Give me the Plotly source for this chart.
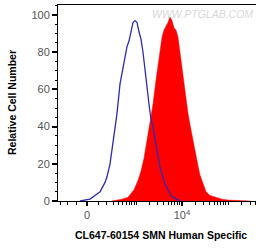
import numpy as np
import plotly.graph_objects as go

# Display transform (biexponential-like): asinh(v / W)
W = 173.0

# Control (blue) histogram: fluorescence intensity vs relative cell number
blue_int = [-62, -17, 26, 71, 121, 178, 203, 246, 277, 329, 368, 434, 538, 627, 696,
            771, 854, 946, 1047, 1158, 1281, 1417, 1649, 1916, 2119, 2342, 2723,
            3327, 4271, 5768, 7404, 9512]
blue_cnt = [0, 0.3, 1, 3, 5, 10, 13, 20, 28, 40, 47, 63, 75, 83, 86,
            91, 96, 97, 96, 91, 87, 80, 65, 52, 44, 40, 30,
            18, 9, 3, 1, 0]

# Stained sample (red filled) histogram
red_int = [277, 391, 483, 661, 899, 1100, 1281, 1491, 1733, 2015, 2342, 2723, 3164,
           3677, 4063, 4491, 4963, 5485, 6062, 6699, 7404, 8188, 9048, 9999, 11050,
           12215, 13500, 14920, 16490, 19150, 22250, 24590, 28570, 33190, 40550,
           52060, 73870, 99700, 181650, 299500]
red_cnt = [0, 0.5, 1, 2, 6, 11, 16, 23, 32, 41, 52, 65, 77,
           88, 92, 94, 96, 99, 97, 93, 92, 88, 80, 70, 62,
           54, 47, 41, 35, 26, 19, 14, 9, 5, 3,
           2, 1, 0.5, 0.2, 0]

x_major_vals = [0, 10000]
x_major_text = ["0", "10<sup>4</sup>"]
x_minor_vals = ([-300, -200, -100, 100, 200, 300, 400, 500, 600, 700, 800, 900]
                + [i * 1000 for i in range(1, 10)]
                + [i * 10000 for i in range(2, 10)]
                + [i * 100000 for i in range(1, 5)])

def tr(v):
    return np.arcsinh(np.asarray(v, dtype=float) / W)

fig = go.Figure()
fig.add_trace(go.Scatter(
    x=tr(red_int), y=red_cnt, mode="lines", fill="tozeroy",
    line=dict(color="#ff0000", width=0.5), fillcolor="#ff0000",
    hoverinfo="skip", showlegend=False))
fig.add_trace(go.Scatter(
    x=tr(blue_int), y=blue_cnt, mode="lines",
    line=dict(color="#2b2bb8", width=1.3),
    hoverinfo="skip", showlegend=False))

font_family = "Liberation Sans, Arial, sans-serif"

fig.update_layout(
    width=256, height=249,
    margin=dict(l=58, r=0, t=5, b=48, autoexpand=False),
    paper_bgcolor="white", plot_bgcolor="white",
    font=dict(family=font_family, color="#555555", size=11),
    xaxis=dict(
        range=[float(tr(-349)), float(tr(405000))],
        automargin=False,
        showline=True, linecolor="black", linewidth=1, mirror=True,
        showgrid=False, zeroline=False,
        tickmode="array", tickvals=list(tr(x_major_vals)), ticktext=x_major_text,
        ticks="outside", ticklen=4, tickwidth=2, tickcolor="black",
        tickfont=dict(size=11, color="#555555"),
        minor=dict(tickmode="array", tickvals=list(tr(x_minor_vals)),
                   ticks="outside", ticklen=3, tickwidth=1, tickcolor="black"),
    ),
    yaxis=dict(
        range=[0, 105.4],
        automargin=False,
        showline=True, linecolor="black", linewidth=1,
        showgrid=False, zeroline=False,
        tickmode="array", tickvals=[0, 20, 40, 60, 80, 100],
        ticks="outside", ticklen=5, tickwidth=1.5, tickcolor="black",
        tickfont=dict(size=11, color="#555555"),
        minor=dict(dtick=5, ticks="outside", ticklen=2.5, tickwidth=1, tickcolor="black"),
    ),
    annotations=[
        dict(text="<i>WWW.PTGLAB.COM</i>", xref="paper", yref="paper",
             x=1.0, y=1.0, xanchor="right", yanchor="top", xshift=-1, yshift=-1,
             showarrow=False,
             font=dict(size=10.5, color="#d9d9d9", family=font_family)),
        dict(text="<b>CL647-60154 SMN Human Specific</b>", xref="paper", yref="paper",
             x=0.52, y=0, yshift=-34, xanchor="center", yanchor="middle", showarrow=False,
             font=dict(size=10.5, color="black", family=font_family)),
        dict(text="<b>Relative Cell Number</b>", xref="paper", yref="paper",
             x=0, xshift=-46, y=0.5, xanchor="center", yanchor="middle", textangle=-90,
             showarrow=False, font=dict(size=10.5, color="black", family=font_family)),
    ],
)

fig.write_html("out.html", config={"displayModeBar": False},
               post_script="document.body.style.margin='0';document.body.style.overflow='hidden';")
